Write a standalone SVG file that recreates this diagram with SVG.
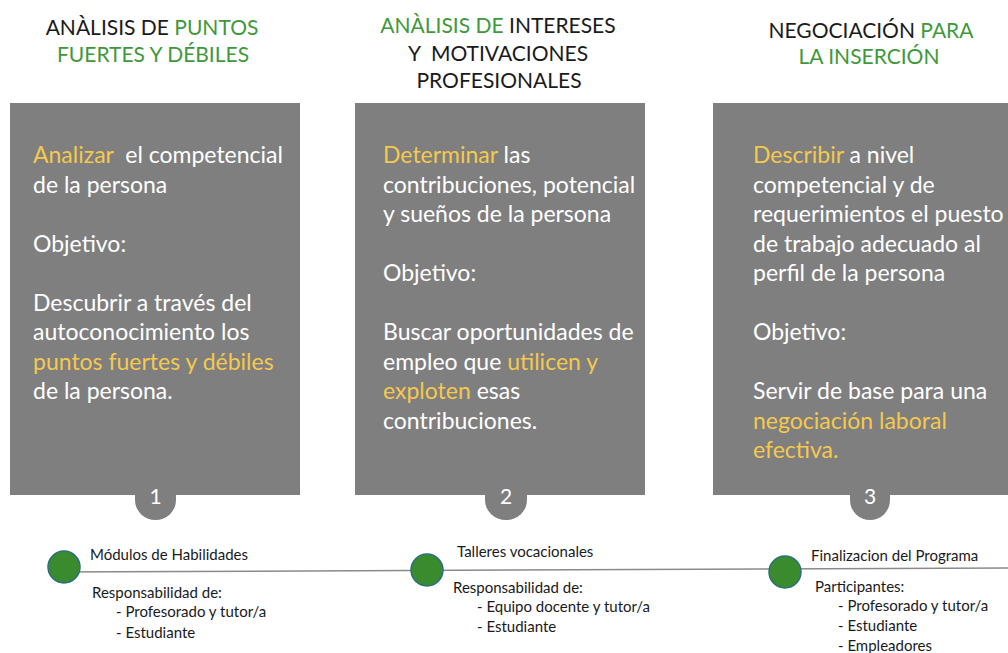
<svg xmlns="http://www.w3.org/2000/svg" width="1008" height="653" viewBox="0 0 1008 653">
<style>
.hd{font-family:Lato,"Open Sans",sans-serif;font-size:21px;text-anchor:middle;fill:#1a1a1a}
.g{fill:#3f983a}
.box{fill:#7f7f7f}
.bt{font-family:Lato,"Open Sans",sans-serif;font-size:23px;fill:#ffffff}
.y{fill:#f4c94e}
.num{font-family:Lato,"Open Sans",sans-serif;font-size:21px;fill:#ffffff;text-anchor:middle}
.tl{font-family:Lato,"Open Sans",sans-serif;font-size:15px;fill:#1a1a1a}
.dot{fill:#3a8a2e;stroke:#2b6f80;stroke-width:1.5}
.line{stroke:#8a8a8a;stroke-width:1.5;fill:none}
</style>
<rect width="1008" height="653" fill="#ffffff"/>
<g id="connectors">
<line class="line" x1="48" y1="572" x2="1008" y2="568"/>
</g>
<g id="step1">
<text class="hd" x="152" y="35">ANÀLISIS DE <tspan class="g">PUNTOS</tspan></text>
<text class="hd g" x="153" y="62">FUERTES Y DÉBILES</text>
<rect class="box" x="10" y="103" width="290" height="392"/>
<path class="box" d="M135,494 L135,500 A20.5,20 0 0 0 176,500 L176,494 Z"/>
<text class="num" x="155.5" y="504">1</text>
<text class="bt" x="33" y="163" xml:space="preserve"><tspan class="y">Analizar</tspan>  el competencial</text>
<text class="bt" x="33" y="192.5">de la persona</text>
<text class="bt" x="33" y="251.5">Objetivo:</text>
<text class="bt" x="33" y="310.5">Descubrir a través del</text>
<text class="bt" x="33" y="340">autoconocimiento los</text>
<text class="bt y" x="33" y="369.5">puntos fuertes y débiles</text>
<text class="bt" x="33" y="399">de la persona.</text>
</g>
<g id="step2">
<text class="hd" x="498" y="33"><tspan class="g">ANÀLISIS DE</tspan> INTERESES</text>
<text class="hd" x="498" y="61" xml:space="preserve">Y  MOTIVACIONES</text>
<text class="hd" x="499" y="88">PROFESIONALES</text>
<rect class="box" x="355" y="103" width="290" height="392"/>
<path class="box" d="M485,494 L485,500 A21,20 0 0 0 527,500 L527,494 Z"/>
<text class="num" x="506" y="504">2</text>
<text class="bt" x="383" y="163"><tspan class="y">Determinar</tspan> las</text>
<text class="bt" x="383" y="192.5">contribuciones, potencial</text>
<text class="bt" x="383" y="222">y sueños de la persona</text>
<text class="bt" x="383" y="281">Objetivo:</text>
<text class="bt" x="383" y="340">Buscar oportunidades de</text>
<text class="bt" x="383" y="369.5">empleo que <tspan class="y">utilicen y</tspan></text>
<text class="bt" x="383" y="399"><tspan class="y">exploten</tspan> esas</text>
<text class="bt" x="383" y="428.5">contribuciones.</text>
</g>
<g id="step3">
<text class="hd" x="871" y="38">NEGOCIACIÓN <tspan class="g">PARA</tspan></text>
<text class="hd g" x="869" y="64">LA INSERCIÓN</text>
<rect class="box" x="713" y="103" width="300" height="392"/>
<path class="box" d="M850,494 L850,500 A20,20 0 0 0 890,500 L890,494 Z"/>
<text class="num" x="870" y="504">3</text>
<text class="bt" x="753" y="163"><tspan class="y">Describir</tspan> a nivel</text>
<text class="bt" x="753" y="192.5">competencial y de</text>
<text class="bt" x="753" y="222">requerimientos el puesto</text>
<text class="bt" x="753" y="251.5">de trabajo adecuado al</text>
<text class="bt" x="753" y="281">perfil de la persona</text>
<text class="bt" x="753" y="340">Objetivo:</text>
<text class="bt" x="753" y="399">Servir de base para una</text>
<text class="bt y" x="753" y="428.5">negociación laboral</text>
<text class="bt y" x="753" y="458">efectiva.</text>
</g>
<g id="milestone1">
<circle class="dot" cx="64" cy="567" r="16"/>
<text class="tl" x="90" y="560">Módulos de Habilidades</text>
<text class="tl" x="92" y="598">Responsabilidad de:</text>
<text class="tl" x="116" y="617">- Profesorado y tutor/a</text>
<text class="tl" x="116" y="638">- Estudiante</text>
</g>
<g id="milestone2">
<circle class="dot" cx="427" cy="570" r="16"/>
<text class="tl" x="457" y="557">Talleres vocacionales</text>
<text class="tl" x="453" y="593">Responsabilidad de:</text>
<text class="tl" x="477" y="612">- Equipo docente y tutor/a</text>
<text class="tl" x="477" y="632">- Estudiante</text>
</g>
<g id="milestone3">
<circle class="dot" cx="785" cy="572" r="16"/>
<text class="tl" x="811" y="561">Finalizacion del Programa</text>
<text class="tl" x="815" y="592">Participantes:</text>
<text class="tl" x="838" y="611">- Profesorado y tutor/a</text>
<text class="tl" x="838" y="631">- Estudiante</text>
<text class="tl" x="838" y="651">- Empleadores</text>
</g>
</svg>
